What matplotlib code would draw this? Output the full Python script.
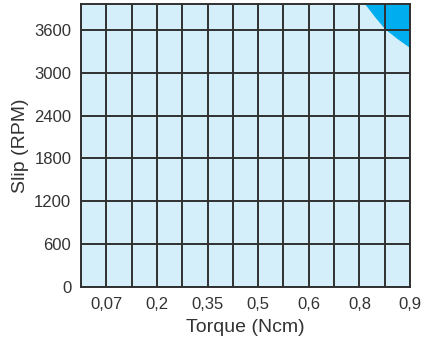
import matplotlib
matplotlib.use("Agg")
import matplotlib.pyplot as plt
import numpy as np

# datos
torque_labels = ["0,07", "0,2", "0,35", "0,5", "0,6", "0,8", "0,9"]
torque_pos = [1, 3, 5, 7, 9, 11, 13]      # columnas de la cuadricula donde van las etiquetas
n_cols = 13
slip_ticks = [0, 600, 1200, 1800, 2400, 3000, 3600]
slip_max = 3955

# limite de la zona oscura (columna, rpm)
limit_x = [11.23, 11.6, 12.0, 12.5, 13.0]
limit_y = [3955, 3785, 3615, 3475, 3350]

plt.rcParams['font.family'] = ['Liberation Sans', 'DejaVu Sans']
txt = "#333333"

fig = plt.figure(figsize=(4.25, 3.45), dpi=100)
ax = fig.add_axes([0.1906, 0.168, 0.7741, 0.819])
ax.set_facecolor("#d4eefa")

ax.fill_between(limit_x, limit_y, slip_max, color="#00aeef", lw=0, zorder=1)

ax.set_xlim(0, n_cols)
ax.set_ylim(0, slip_max)
ax.set_xticks(torque_pos)
ax.set_xticklabels(torque_labels)
ax.set_xticks(np.arange(0, n_cols + 1), minor=True)
ax.set_yticks(slip_ticks)

ax.set_axisbelow(False)
ax.grid(True, which="both", axis="x", color="#303030", lw=1.4)
ax.grid(True, which="major", axis="y", color="#303030", lw=1.4)

ax.tick_params(which="both", length=0)
ax.tick_params(axis="x", pad=7, labelsize=12, colors=txt)
ax.tick_params(axis="y", pad=7, labelsize=12, colors=txt)
for s in ax.spines.values():
    s.set_color("#303030")
    s.set_linewidth(1.4)

ax.set_xlabel("Torque (Ncm)", fontsize=14, color=txt, labelpad=5)
ax.set_ylabel("Slip (RPM)", fontsize=14, color=txt, labelpad=4)

fig.savefig("out.png", dpi=100)
